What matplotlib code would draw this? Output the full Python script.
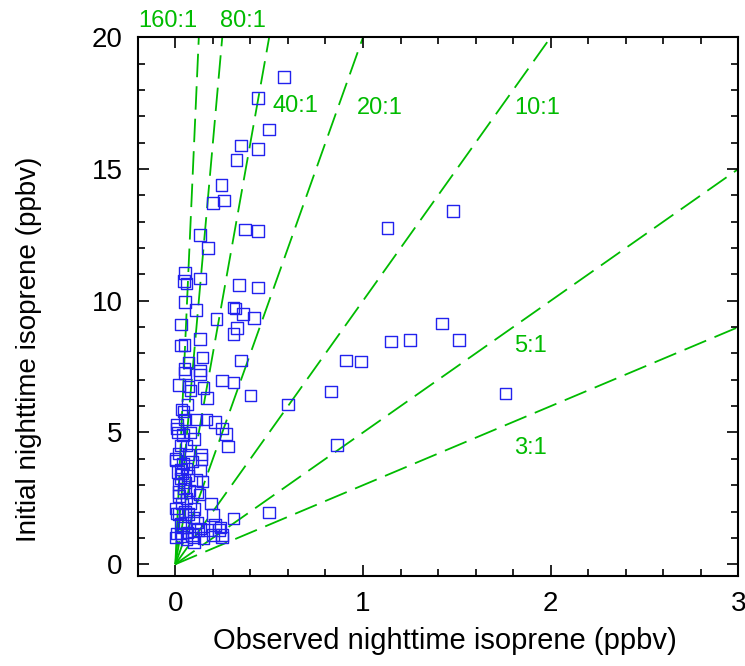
import numpy as np
import matplotlib.pyplot as plt
from matplotlib.ticker import MultipleLocator

plt.rcParams['font.family'] = ['Liberation Sans', 'DejaVu Sans']

# observed vs initial nighttime isoprene (ppbv)
x_obs = [
    0.58, 0.44, 0.50, 0.35, 0.44, 0.325, 0.245, 0.26, 0.20, 0.37, 0.44, 0.13, 0.175,
    1.48, 1.13,
    0.053, 0.045, 0.06, 0.13, 0.34, 0.44,
    0.053, 0.11, 0.31, 0.32, 0.36, 0.42, 0.22, 0.03, 0.33, 0.31, 0.13, 0.03, 0.048,
    0.145, 0.07, 0.35, 0.048, 0.13,
    0.053, 0.13, 0.25, 0.31, 0.02, 0.07, 0.15, 0.08, 0.17, 0.40, 0.60, 0.064, 0.032,
    0.043, 0.11, 0.165, 0.21, 0.01, 0.01, 0.015, 0.08, 0.25, 0.27, 0.10, 0.027, 0.28,
    0.02, 0.07, 0.14, 0.0,
    0.83, 0.91, 0.99, 1.15, 1.25, 1.42, 1.51, 1.76, 0.86,
    0.005, 0.04, 0.14, 0.13, 0.037, 0.027, 0.016, 0.016, 0.145, 0.117, 0.128, 0.19,
    0.31, 0.50, 0.005, 0.01, 0.027, 0.01, 0.005, 0.096, 0.20, 0.21, 0.24, 0.20, 0.25,
    0.064, 0.096, 0.053, 0.043, 0.059, 0.069, 0.117, 0.133, 0.234, 0.25, 0.027, 0.09,
    0.10,
    0.03, 0.05, 0.06, 0.035, 0.05, 0.07, 0.04, 0.08, 0.06, 0.09, 0.11, 0.04, 0.05,
    0.02, 0.075, 0.015, 0.10, 0.12, 0.06, 0.02, 0.035, 0.15, 0.17,
]
y_init = [
    18.5, 17.7, 16.5, 15.9, 15.75, 15.35, 14.4, 13.8, 13.7, 12.7, 12.65, 12.5, 12.0,
    13.4, 12.77,
    11.05, 10.75, 10.65, 10.85, 10.6, 10.5,
    9.95, 9.65, 9.75, 9.7, 9.5, 9.35, 9.3, 9.1, 8.97, 8.75, 8.55, 8.3, 8.33,
    7.85, 7.65, 7.73, 7.4, 7.35,
    7.25, 7.2, 6.97, 6.9, 6.8, 6.75, 6.7, 6.6, 6.3, 6.4, 6.06, 6.06, 5.87,
    5.8, 5.5, 5.5, 5.4, 5.3, 5.15, 5.0, 5.0, 5.15, 4.95, 4.75, 4.5, 4.47,
    4.2, 4.17, 4.17, 4.0,
    6.55, 7.73, 7.69, 8.45, 8.52, 9.13, 8.52, 6.48, 4.53,
    3.94, 3.83, 4.0, 3.56, 3.45, 3.26, 3.03, 2.73, 3.14, 2.73, 2.65, 2.31,
    1.74, 1.97, 2.12, 1.93, 1.55, 1.17, 1.02, 1.78, 1.86, 1.48, 1.40, 1.10, 1.10,
    1.21, 1.02, 1.59, 2.88, 3.64, 3.37, 1.59, 1.36, 1.29, 1.02, 1.17, 1.10,
    0.83,
    3.6, 3.1, 2.5, 2.3, 2.0, 1.9, 1.4, 2.3, 4.5, 3.9, 3.2, 4.9, 5.5,
    2.6, 2.8, 3.5, 2.1, 1.3, 0.95, 1.9, 1.05, 1.0, 1.3,
]

# reference ratio lines (initial : observed)
ratios = [160, 80, 40, 20, 10, 5, 3]
ratio_labels = ['160:1', '80:1', '40:1', '20:1', '10:1', '5:1', '3:1']
label_x = [-0.04, 0.36, 0.64, 1.09, 1.93, 1.89, 1.89]
label_y = [20.6, 20.6, 17.4, 17.3, 17.3, 8.3, 4.4]

green = '#00bb00'
blue = '#2222ee'

fig = plt.figure(figsize=(7.45, 6.66), dpi=100)
ax = fig.add_axes([0.185, 0.135, 0.806, 0.809])

for r in ratios:
    x_end = min(3.0, 20.0 / r)
    ax.plot([0, x_end], [0, r * x_end], color=green, lw=1.3,
            dashes=(13, 5), zorder=1)

ax.scatter(x_obs, y_init, marker='s', s=70, facecolors='none',
           edgecolors=blue, linewidths=1.0, zorder=2)

for lab, lx, ly in zip(ratio_labels, label_x, label_y):
    ax.text(lx, ly, lab, color=green, fontsize=17, ha='center', va='center',
            clip_on=False)

ax.set_xlim(-0.2, 3.0)
ax.set_ylim(-0.45, 20)
ax.xaxis.set_major_locator(MultipleLocator(1))
ax.xaxis.set_minor_locator(MultipleLocator(0.2))
ax.yaxis.set_major_locator(MultipleLocator(5))
ax.yaxis.set_minor_locator(MultipleLocator(1))
ax.tick_params(which='both', direction='in', top=True, right=True,
               width=1.2, labelsize=20)
ax.tick_params(which='major', length=8, pad=11)
ax.tick_params(which='minor', length=5)
for sp in ax.spines.values():
    sp.set_linewidth(1.5)

ax.set_xlabel('Observed nighttime isoprene (ppbv)', fontsize=21)
ax.set_ylabel('Initial nighttime isoprene (ppbv)', fontsize=20)
ax.xaxis.set_label_coords(0.512, -0.094)
ax.yaxis.set_label_coords(-0.16, 0.42)

fig.savefig('out.png', dpi=100)
